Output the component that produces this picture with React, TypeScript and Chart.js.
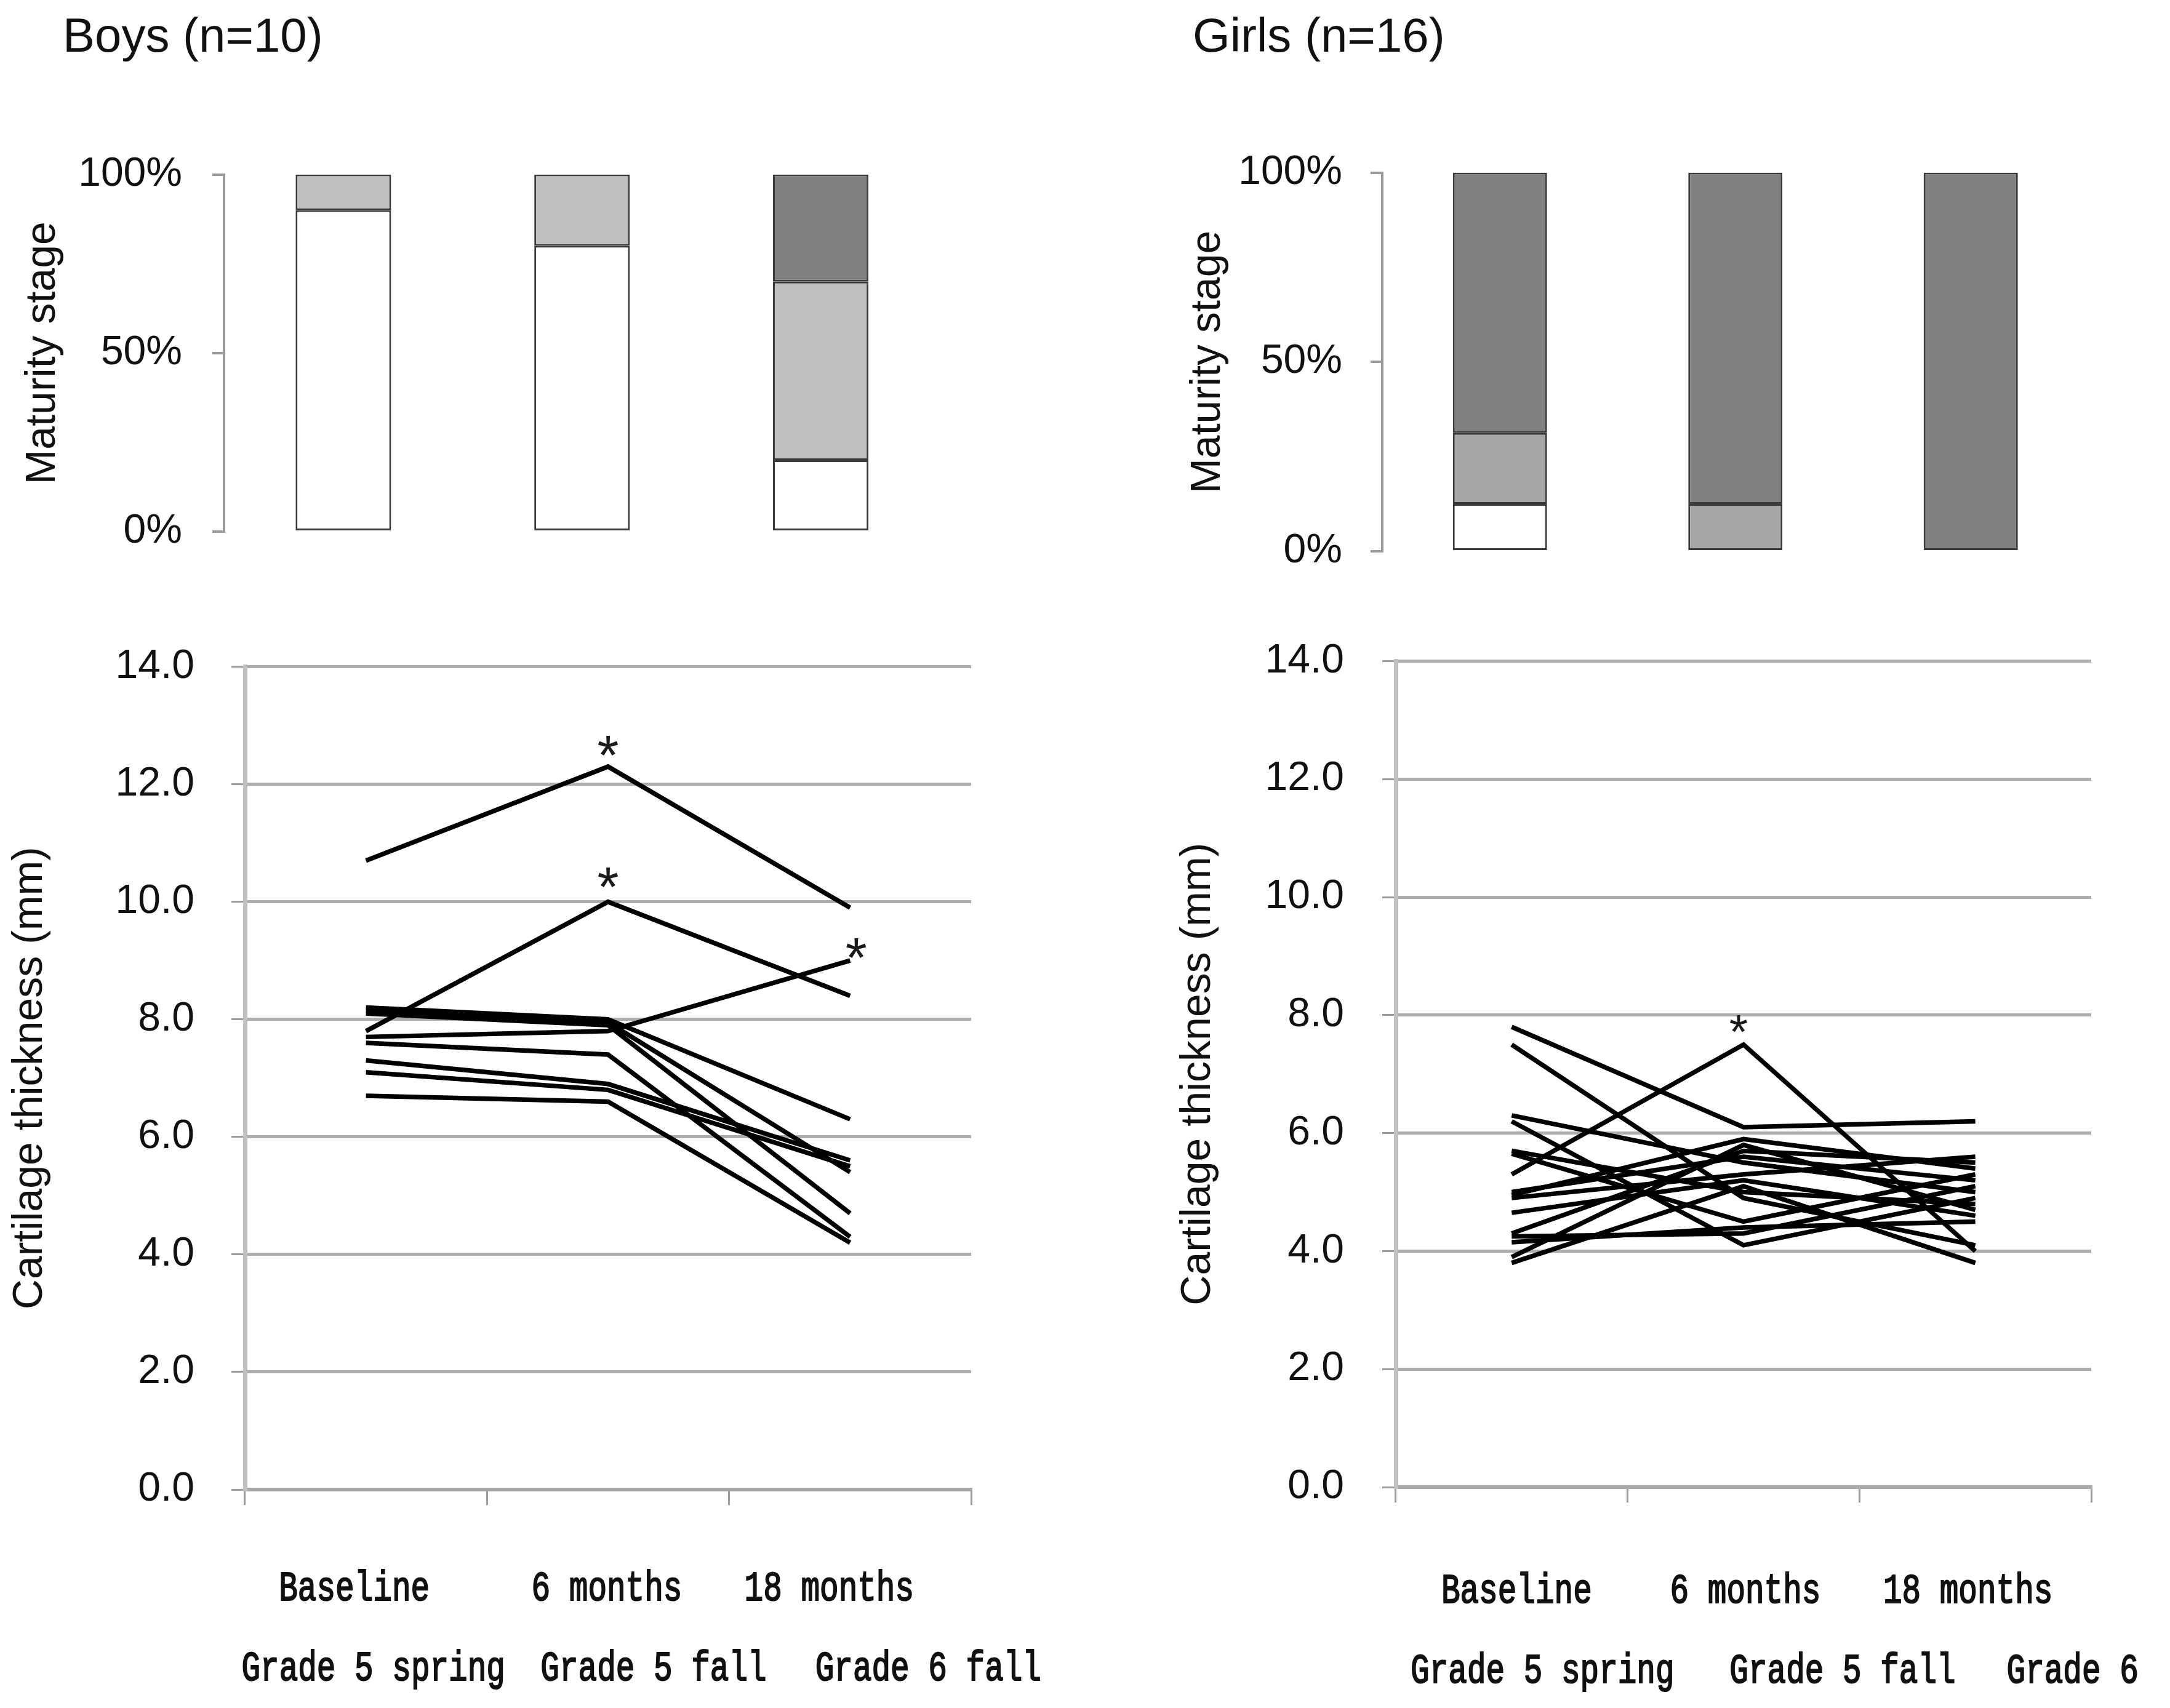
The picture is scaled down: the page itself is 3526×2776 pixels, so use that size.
import React, { useEffect, useRef } from "react";
import { Chart, registerables } from "chart.js";

Chart.register(...registerables);

// ---------- data ----------
const TIME_POINTS = ["Baseline", "6 months", "18 months"];
const BOYS_TERMS = ["Grade 5 spring", "Grade 5 fall", "Grade 6 fall"];
const GIRLS_TERMS = ["Grade 5 spring", "Grade 5 fall", "Grade 6"];

const BOYS_TITLE = "Boys (n=10)";
const GIRLS_TITLE = "Girls (n=16)";
const MATURITY_LABEL = "Maturity stage";
const THICKNESS_LABEL = "Cartilage thickness (mm)";

// maturity stage shares (%), stacked bottom -> top
const BOYS_STAGE_1 = [90, 80, 20];
const BOYS_STAGE_2 = [10, 20, 50];
const BOYS_STAGE_3 = [0, 0, 30];
const GIRLS_STAGE_1 = [12.5, 0, 0];
const GIRLS_STAGE_2 = [18.75, 12.5, 0];
const GIRLS_STAGE_3 = [68.75, 87.5, 100];

// cartilage thickness (mm) per subject: [baseline, 6 months, 18 months]
const BOYS_THICKNESS = [
  [10.7, 12.3, 9.9],
  [7.8, 10.0, 8.4],
  [7.7, 7.8, 9.0],
  [8.2, 8.0, 6.3],
  [8.15, 7.95, 5.4],
  [8.1, 7.9, 4.7],
  [7.6, 7.4, 4.3],
  [7.3, 6.9, 5.6],
  [7.1, 6.8, 5.5],
  [6.7, 6.6, 4.2],
];

const GIRLS_THICKNESS = [
  [7.8, 6.1, 6.2],
  [7.5, 4.9, 4.1],
  [5.3, 7.5, 4.0],
  [6.3, 5.5, 5.0],
  [6.2, 4.1, 4.9],
  [5.7, 5.0, 4.8],
  [5.65, 4.5, 5.3],
  [5.0, 5.6, 5.2],
  [4.95, 5.9, 5.4],
  [4.9, 5.3, 5.6],
  [4.65, 5.2, 4.6],
  [4.3, 5.7, 5.5],
  [4.25, 4.3, 5.1],
  [4.15, 4.4, 4.5],
  [3.9, 5.8, 4.7],
  [3.8, 5.1, 3.8],
];

// significance markers: category index and value where the "*" sits
const BOYS_SIGNIFICANT = [
  { x: 1, y: 12.66 },
  { x: 1, y: 10.41 },
  { x: 2, y: 9.21 },
];
const GIRLS_SIGNIFICANT = [{ x: 1, y: 7.85 }];

// ---------- styling ----------
const SANS = '"Liberation Sans", Arial, sans-serif';
const MONO = '"Liberation Mono", "Courier New", monospace';
const TEXT = "#111111";

function asteriskPlugin(points: { x: number; y: number }[], size: number, dx: number[]) {
  return {
    id: "asterisks",
    afterDatasetsDraw(chart: any) {
      const { ctx, scales } = chart;
      const xs = scales.x;
      const ys = scales.y;
      ctx.save();
      ctx.font = `${size}px ${SANS}`;
      ctx.fillStyle = "#1a1a1a";
      ctx.textAlign = "center";
      ctx.textBaseline = "alphabetic";
      const m = ctx.measureText("*");
      const shift = (m.actualBoundingBoxAscent - m.actualBoundingBoxDescent) / 2;
      points.forEach((p, i) => {
        ctx.fillText("*", xs.getPixelForValue(p.x) + (dx[i] || 0), ys.getPixelForValue(p.y) + shift);
      });
      ctx.restore();
    },
  };
}

type Row = { labels: string[]; dx: number[]; dy: number };

function termLabelsPlugin(rows: Row[]) {
  return {
    id: "termLabels",
    afterDraw(chart: any) {
      const { ctx, chartArea, scales } = chart;
      const xs = scales.x;
      ctx.save();
      ctx.fillStyle = TEXT;
      ctx.strokeStyle = TEXT;
      ctx.lineWidth = 1.6;
      ctx.font = `51px ${MONO}`;
      ctx.textAlign = "center";
      ctx.textBaseline = "middle";
      rows.forEach((row) => {
        row.labels.forEach((t, i) => {
          const px = xs.getPixelForValue(i) + row.dx[i];
          const py = chartArea.bottom + row.dy;
          ctx.save();
          ctx.translate(px, py);
          ctx.scale(1, 1.35);
          ctx.fillText(t, 0, 0);
          ctx.strokeText(t, 0, 0);
          ctx.restore();
        });
      });
      ctx.restore();
    },
  };
}

const noVerticalPadding = (s: any) => {
  s.paddingTop = 0;
  s.paddingBottom = 0;
};

function maturityConfig(stages: number[][], colors: string[], lay: any) {
  return {
    type: "bar",
    data: {
      labels: TIME_POINTS,
      datasets: stages.map((d, i) => ({
        data: d,
        backgroundColor: colors[i],
        borderColor: "#3a3a3a",
        borderWidth: 3,
        borderSkipped: false,
        barPercentage: 0.4,
        categoryPercentage: 1,
      })),
    },
    options: {
      responsive: false,
      animation: false,
      devicePixelRatio: 1,
      layout: { padding: lay.padding },
      plugins: { legend: { display: false }, tooltip: { enabled: false } },
      scales: {
        x: { stacked: true, display: false },
        y: {
          stacked: true,
          min: 0,
          max: 100,
          ticks: {
            stepSize: 50,
            callback: (v: any) => v + "%",
            color: TEXT,
            font: { family: SANS, size: 66 },
            padding: lay.tickPad,
          },
          grid: { drawOnChartArea: false, drawTicks: true, tickLength: 19, color: "#9a9a9a", lineWidth: 4 },
          border: { display: true, color: "#9a9a9a", width: 4 },
          title: {
            display: true,
            text: MATURITY_LABEL,
            color: TEXT,
            font: { family: SANS, size: 68 },
            padding: { top: lay.titlePad, bottom: 0 },
          },
          afterFit: (s: any) => {
            s.width = lay.axisWidth;
            noVerticalPadding(s);
          },
        },
      },
    },
  };
}

function thicknessConfig(lines: number[][], stars: any[], starSize: number, starDx: number[], rows: Row[], lay: any) {
  return {
    type: "line",
    data: {
      labels: TIME_POINTS,
      datasets: lines.map((d) => ({
        data: d,
        borderColor: "#000000",
        borderWidth: 7.5,
        pointRadius: 0,
        tension: 0,
        fill: false,
      })),
    },
    options: {
      responsive: false,
      animation: false,
      devicePixelRatio: 1,
      layout: { padding: lay.padding },
      plugins: { legend: { display: false }, tooltip: { enabled: false } },
      scales: {
        x: {
          type: "category",
          offset: true,
          ticks: { display: false },
          grid: { offset: true, drawOnChartArea: false, drawTicks: true, tickLength: 25, color: "#9a9a9a", lineWidth: 3 },
          border: { display: true, color: "#a8a8a8", width: 6 },
          afterFit: (s: any) => {
            s.height = lay.xHeight;
          },
        },
        y: {
          min: 0,
          max: 14,
          ticks: {
            stepSize: 2,
            callback: (v: any) => Number(v).toFixed(1),
            color: TEXT,
            font: { family: SANS, size: 66 },
            padding: lay.tickPad,
          },
          grid: { color: "#adadad", lineWidth: 5, tickColor: "#9a9a9a", tickWidth: 3, tickLength: 22 },
          border: { display: true, color: "#c0c0c0", width: 7 },
          title: {
            display: true,
            text: THICKNESS_LABEL,
            color: TEXT,
            font: { family: SANS, size: 68 },
            padding: { top: lay.titlePad, bottom: 0 },
          },
          afterFit: (s: any) => {
            s.width = lay.axisWidth;
            noVerticalPadding(s);
          },
        },
      },
    },
    plugins: [asteriskPlugin(stars, starSize, starDx), termLabelsPlugin(rows)],
  };
}

function ChartCanvas(props: { left: number; top: number; width: number; height: number; build: () => any }) {
  const ref = useRef<HTMLCanvasElement | null>(null);
  useEffect(() => {
    const chart = new Chart(ref.current as HTMLCanvasElement, props.build());
    return () => chart.destroy();
  }, []);
  return (
    <canvas
      ref={ref}
      width={props.width}
      height={props.height}
      style={{ position: "absolute", left: props.left, top: props.top, width: props.width, height: props.height }}
    />
  );
}

const titleStyle = (left: number): React.CSSProperties => ({
  position: "absolute",
  left,
  top: 18,
  fontFamily: SANS,
  fontSize: 78,
  lineHeight: 1,
  color: TEXT,
  whiteSpace: "nowrap",
});

export default function App() {
  return (
    <div
      style={{
        position: "absolute",
        left: 0,
        top: 0,
        width: 3526,
        height: 2776,
        background: "#ffffff",
        overflow: "hidden",
      }}
    >
      <div style={titleStyle(102)}>{BOYS_TITLE}</div>
      <div style={titleStyle(1938)}>{GIRLS_TITLE}</div>

      <ChartCanvas
        left={0}
        top={0}
        width={1763}
        height={950}
        build={() =>
          maturityConfig([BOYS_STAGE_1, BOYS_STAGE_2, BOYS_STAGE_3], ["#ffffff", "#c0c0c0", "#808080"], {
            padding: { left: 0, top: 283.5, right: 235.5, bottom: 86 },
            axisWidth: 364,
            tickPad: 49,
            titlePad: 29,
          })
        }
      />
      <ChartCanvas
        left={1763}
        top={0}
        width={1763}
        height={950}
        build={() =>
          maturityConfig([GIRLS_STAGE_1, GIRLS_STAGE_2, GIRLS_STAGE_3], ["#ffffff", "#a6a6a6", "#808080"], {
            padding: { left: 150, top: 280.5, right: 132.5, bottom: 54 },
            axisWidth: 333,
            tickPad: 46,
            titlePad: 9,
          })
        }
      />
      <ChartCanvas
        left={0}
        top={980}
        width={1763}
        height={1796}
        build={() =>
          thicknessConfig(
            BOYS_THICKNESS,
            BOYS_SIGNIFICANT,
            90,
            [0, 0, 10],
            [
              { labels: TIME_POINTS, dx: [-19, -2, -34], dy: 162 },
              { labels: BOYS_TERMS, dx: [12, 74, 127], dy: 292 },
            ],
            {
              padding: { left: 0, top: 103.5, right: 185, bottom: 0 },
              axisWidth: 398,
              xHeight: 355,
              tickPad: 60,
              titlePad: 8,
            }
          )
        }
      />
      <ChartCanvas
        left={1763}
        top={980}
        width={1763}
        height={1796}
        build={() =>
          thicknessConfig(
            GIRLS_THICKNESS,
            GIRLS_SIGNIFICANT,
            78,
            [-8],
            [
              { labels: TIME_POINTS, dx: [8, 3, -12], dy: 170 },
              { labels: GIRLS_TERMS, dx: [50, 161, 158], dy: 300 },
            ],
            {
              padding: { left: 130, top: 94.5, right: 128, bottom: 0 },
              axisWidth: 375,
              xHeight: 359,
              tickPad: 62,
              titlePad: 13,
            }
          )
        }
      />
    </div>
  );
}
